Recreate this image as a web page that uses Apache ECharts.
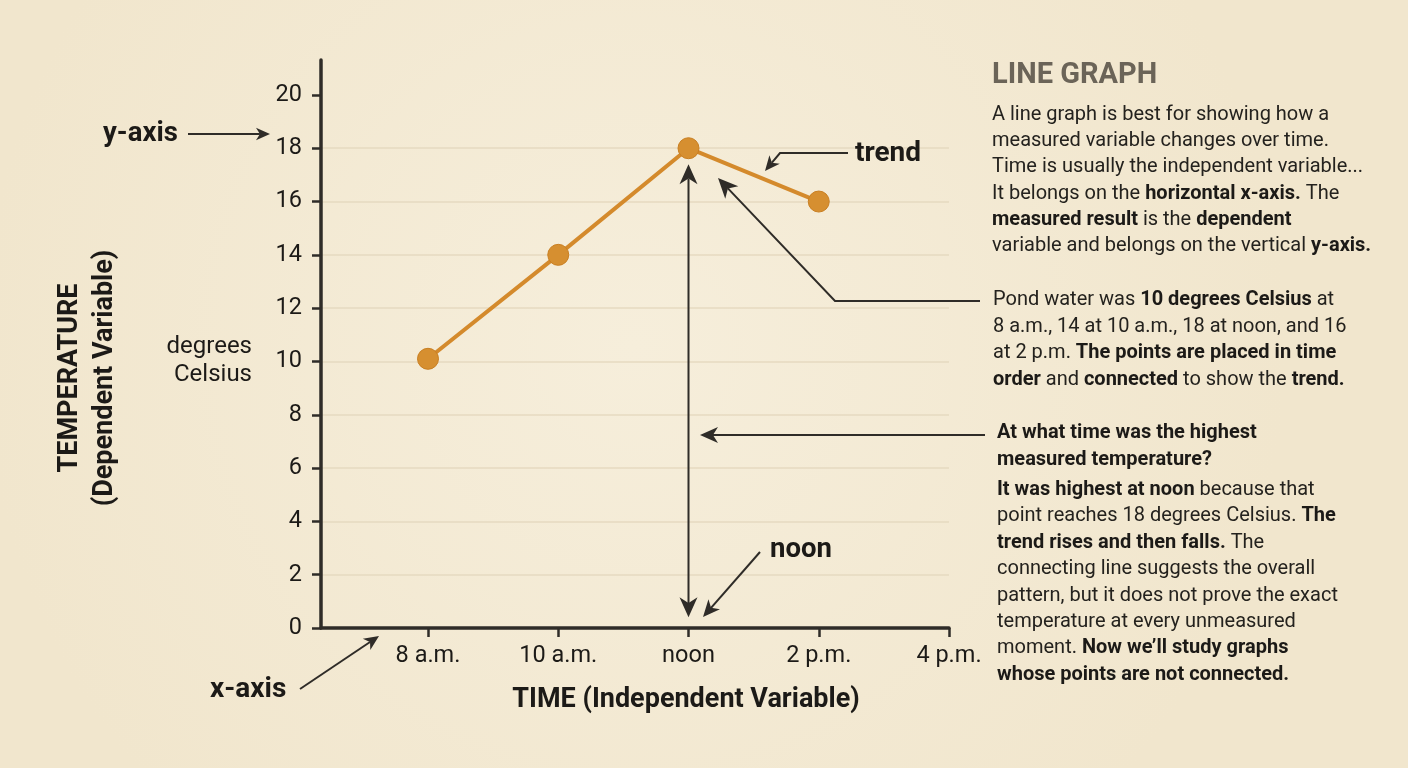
<!DOCTYPE html>
<html>
<head>
<meta charset="utf-8">
<script src="https://cdn.jsdelivr.net/npm/echarts@6/dist/echarts.min.js"></script>
<style>
html, body { margin: 0; padding: 0; background: #f5ecd6; }
#chart { width: 1408px; height: 768px; }
</style>
</head>
<body>
<div id="chart"></div>
<script>
// 数据
const hourTicks = [8, 10, 12, 14, 16]
const hourLabels = ['8 a.m.', '10 a.m.', 'noon', '2 p.m.', '4 p.m.']
const measuredHours = [8, 10, 12, 14]
const temperatures = [10.1, 14, 18, 16]
const tempTicks = [0, 2, 4, 6, 8, 10, 12, 14, 16, 18, 20]

const INK = '#2f2c28'
const TEXT = '#1c1a17'
const ORANGE = '#d48a2c'
const FONT = 'Roboto, "Noto Sans", sans-serif'

let myChart = echarts.init(document.getElementById('chart'))

// 箭头头部
function head(from, tip, size) {
    const a = Math.atan2(tip[1] - from[1], tip[0] - from[0])
    const c = Math.cos(a), s = Math.sin(a)
    const w = size * 0.45
    const bx = tip[0] - size * c, by = tip[1] - size * s
    const notch = [tip[0] - size * 0.72 * c, tip[1] - size * 0.72 * s]
    return {
        notch: notch,
        el: {
            type: 'polygon', silent: true,
            shape: { points: [tip, [bx + w * s, by - w * c], notch, [bx - w * s, by + w * c]] },
            style: { fill: INK }
        }
    }
}

// 箭头: 折线 + 箭头, 可选双头
function arrow(points, size, both) {
    size = size || 15
    const n = points.length
    const h1 = head(points[n - 2], points[n - 1], size)
    let line = points.slice(0, n - 1).concat([h1.notch])
    const els = [h1.el]
    if (both) {
        const h0 = head(points[1], points[0], size)
        line = [h0.notch].concat(line.slice(1))
        els.push(h0.el)
    }
    els.unshift({ type: 'polyline', silent: true, shape: { points: line }, style: { stroke: INK, lineWidth: 2, fill: null } })
    return els
}

function label(x, y, text, size, bold, color) {
    return {
        type: 'text', x: x, y: y, silent: true,
        style: {
            text: text, fill: color || TEXT, font: (bold ? 'bold ' : '') + size + 'px ' + FONT,
            align: 'left', verticalAlign: 'middle'
        }
    }
}

const richStyles = {
    b: { fontWeight: 'bold', fontSize: 20, fontFamily: FONT, fill: TEXT }
}

function paragraph(x, y0, lh, lines) {
    return lines.map((t, i) => ({
        type: 'text', x: x, y: y0 + i * lh, silent: true,
        style: {
            text: t, fill: '#24221e', fontSize: 20, fontFamily: FONT,
            verticalAlign: 'middle', align: 'left', rich: richStyles
        }
    }))
}

const para1 = [
    'A line graph is best for showing how a',
    'measured variable changes over time.',
    'Time is usually the independent variable...',
    'It belongs on the {b|horizontal x-axis.} The',
    '{b|measured result} is the {b|dependent}',
    'variable and belongs on the vertical {b|y-axis.}'
]
const para2 = [
    'Pond water was {b|10 degrees Celsius} at',
    '8 a.m., 14 at 10 a.m., 18 at noon, and 16',
    'at 2 p.m. {b|The points are placed in time}',
    '{b|order} and {b|connected} to show the {b|trend.}'
]
const question = [
    '{b|At what time was the highest}',
    '{b|measured temperature?}'
]
const answer = [
    '{b|It was highest at noon} because that',
    'point reaches 18 degrees Celsius. {b|The}',
    '{b|trend rises and then falls.} The',
    'connecting line suggests the overall',
    'pattern, but it does not prove the exact',
    'temperature at every unmeasured',
    'moment. {b|Now we\u2019ll study graphs}',
    '{b|whose points are not connected.}'
]

const options = {
    backgroundColor: {
        type: 'radial', x: 0.45, y: 0.45, r: 0.85,
        colorStops: [{ offset: 0, color: '#f6eedb' }, { offset: 1, color: '#f1e6cd' }]
    },
    animation: false,
    grid: { left: 321, right: 459, top: 60, bottom: 140 },
    xAxis: {
        type: 'value',
        min: 6.357,
        max: 16,
        axisLine: { show: true, lineStyle: { color: INK, width: 3.5 } },
        axisTick: { show: true, customValues: hourTicks, length: 9, lineStyle: { color: INK, width: 2.5 } },
        axisLabel: {
            customValues: hourTicks, margin: 16, fontSize: 23.5, fontFamily: FONT, color: TEXT,
            formatter: v => hourLabels[hourTicks.indexOf(v)]
        },
        splitLine: { show: false }
    },
    yAxis: {
        type: 'value',
        min: 0,
        max: 21.31,
        interval: 2,
        axisLine: { show: true, lineStyle: { color: INK, width: 3.5 } },
        axisTick: { show: true, customValues: tempTicks, length: 9, lineStyle: { color: INK, width: 2.5 } },
        axisLabel: {
            customValues: tempTicks, margin: 19, fontSize: 23.5, fontFamily: FONT, color: TEXT
        },
        splitLine: { show: true, showMaxLine: false, lineStyle: { color: '#e6dac0', width: 1.5 } }
    },
    series: [
        {
            name: 'Pond water temperature',
            type: 'line',
            data: measuredHours.map((h, i) => [h, temperatures[i]]),
            symbol: 'circle',
            symbolSize: 21,
            lineStyle: { color: ORANGE, width: 4 },
            itemStyle: { color: '#d68f30', borderColor: '#c97f22', borderWidth: 1 },
            z: 5
        }
    ]
}
myChart.setOption(options)

// 竖直双箭头从数据坐标换算
const arrowTop = myChart.convertToPixel({ gridIndex: 0 }, [12, 17.4])
const arrowBottom = myChart.convertToPixel({ gridIndex: 0 }, [12, 0.4])

const graphics = [].concat(
    arrow([arrowBottom, arrowTop], 20, true),
    arrow([[188, 134], [270, 134]], 14),
    arrow([[300, 689], [379, 636]], 15),
    arrow([[848, 153], [780, 153], [765, 171]], 15),
    arrow([[980, 301], [835, 301], [718, 178]], 20),
    arrow([[985, 435], [700, 435]], 18),
    arrow([[760, 552], [703, 617]], 17),
    [
        label(103, 134, 'y-axis', 27.5, true),
        label(210, 690, 'x-axis', 28, true),
        label(855, 154, 'trend', 28, true),
        label(770, 550, 'noon', 27.5, true),
        {
            type: 'text', x: 252, y: 347, silent: true,
            style: { text: 'degrees', fill: TEXT, font: '24px ' + FONT, align: 'right', verticalAlign: 'middle' }
        },
        {
            type: 'text', x: 252, y: 375, silent: true,
            style: { text: 'Celsius', fill: TEXT, font: '24px ' + FONT, align: 'right', verticalAlign: 'middle' }
        },
        {
            type: 'text', x: 88, y: 378, rotation: Math.PI / 2, silent: true,
            style: {
                text: 'TEMPERATURE\n(Dependent Variable)', fill: TEXT, font: 'bold 27px ' + FONT,
                align: 'center', verticalAlign: 'middle', lineHeight: 35
            }
        },
        {
            type: 'text', x: 686, y: 700, silent: true,
            style: { text: 'TIME (Independent Variable)', fill: TEXT, font: 'bold 27px ' + FONT, align: 'center', verticalAlign: 'middle' }
        },
        label(992, 76, 'LINE GRAPH', 29, true, '#6b6458')
    ],
    paragraph(992, 115, 26.2, para1),
    paragraph(993, 300, 26.5, para2),
    paragraph(997, 433, 26.8, question),
    paragraph(997, 490, 26.4, answer)
)

myChart.setOption({ graphic: graphics })
</script>
</body>
</html>
